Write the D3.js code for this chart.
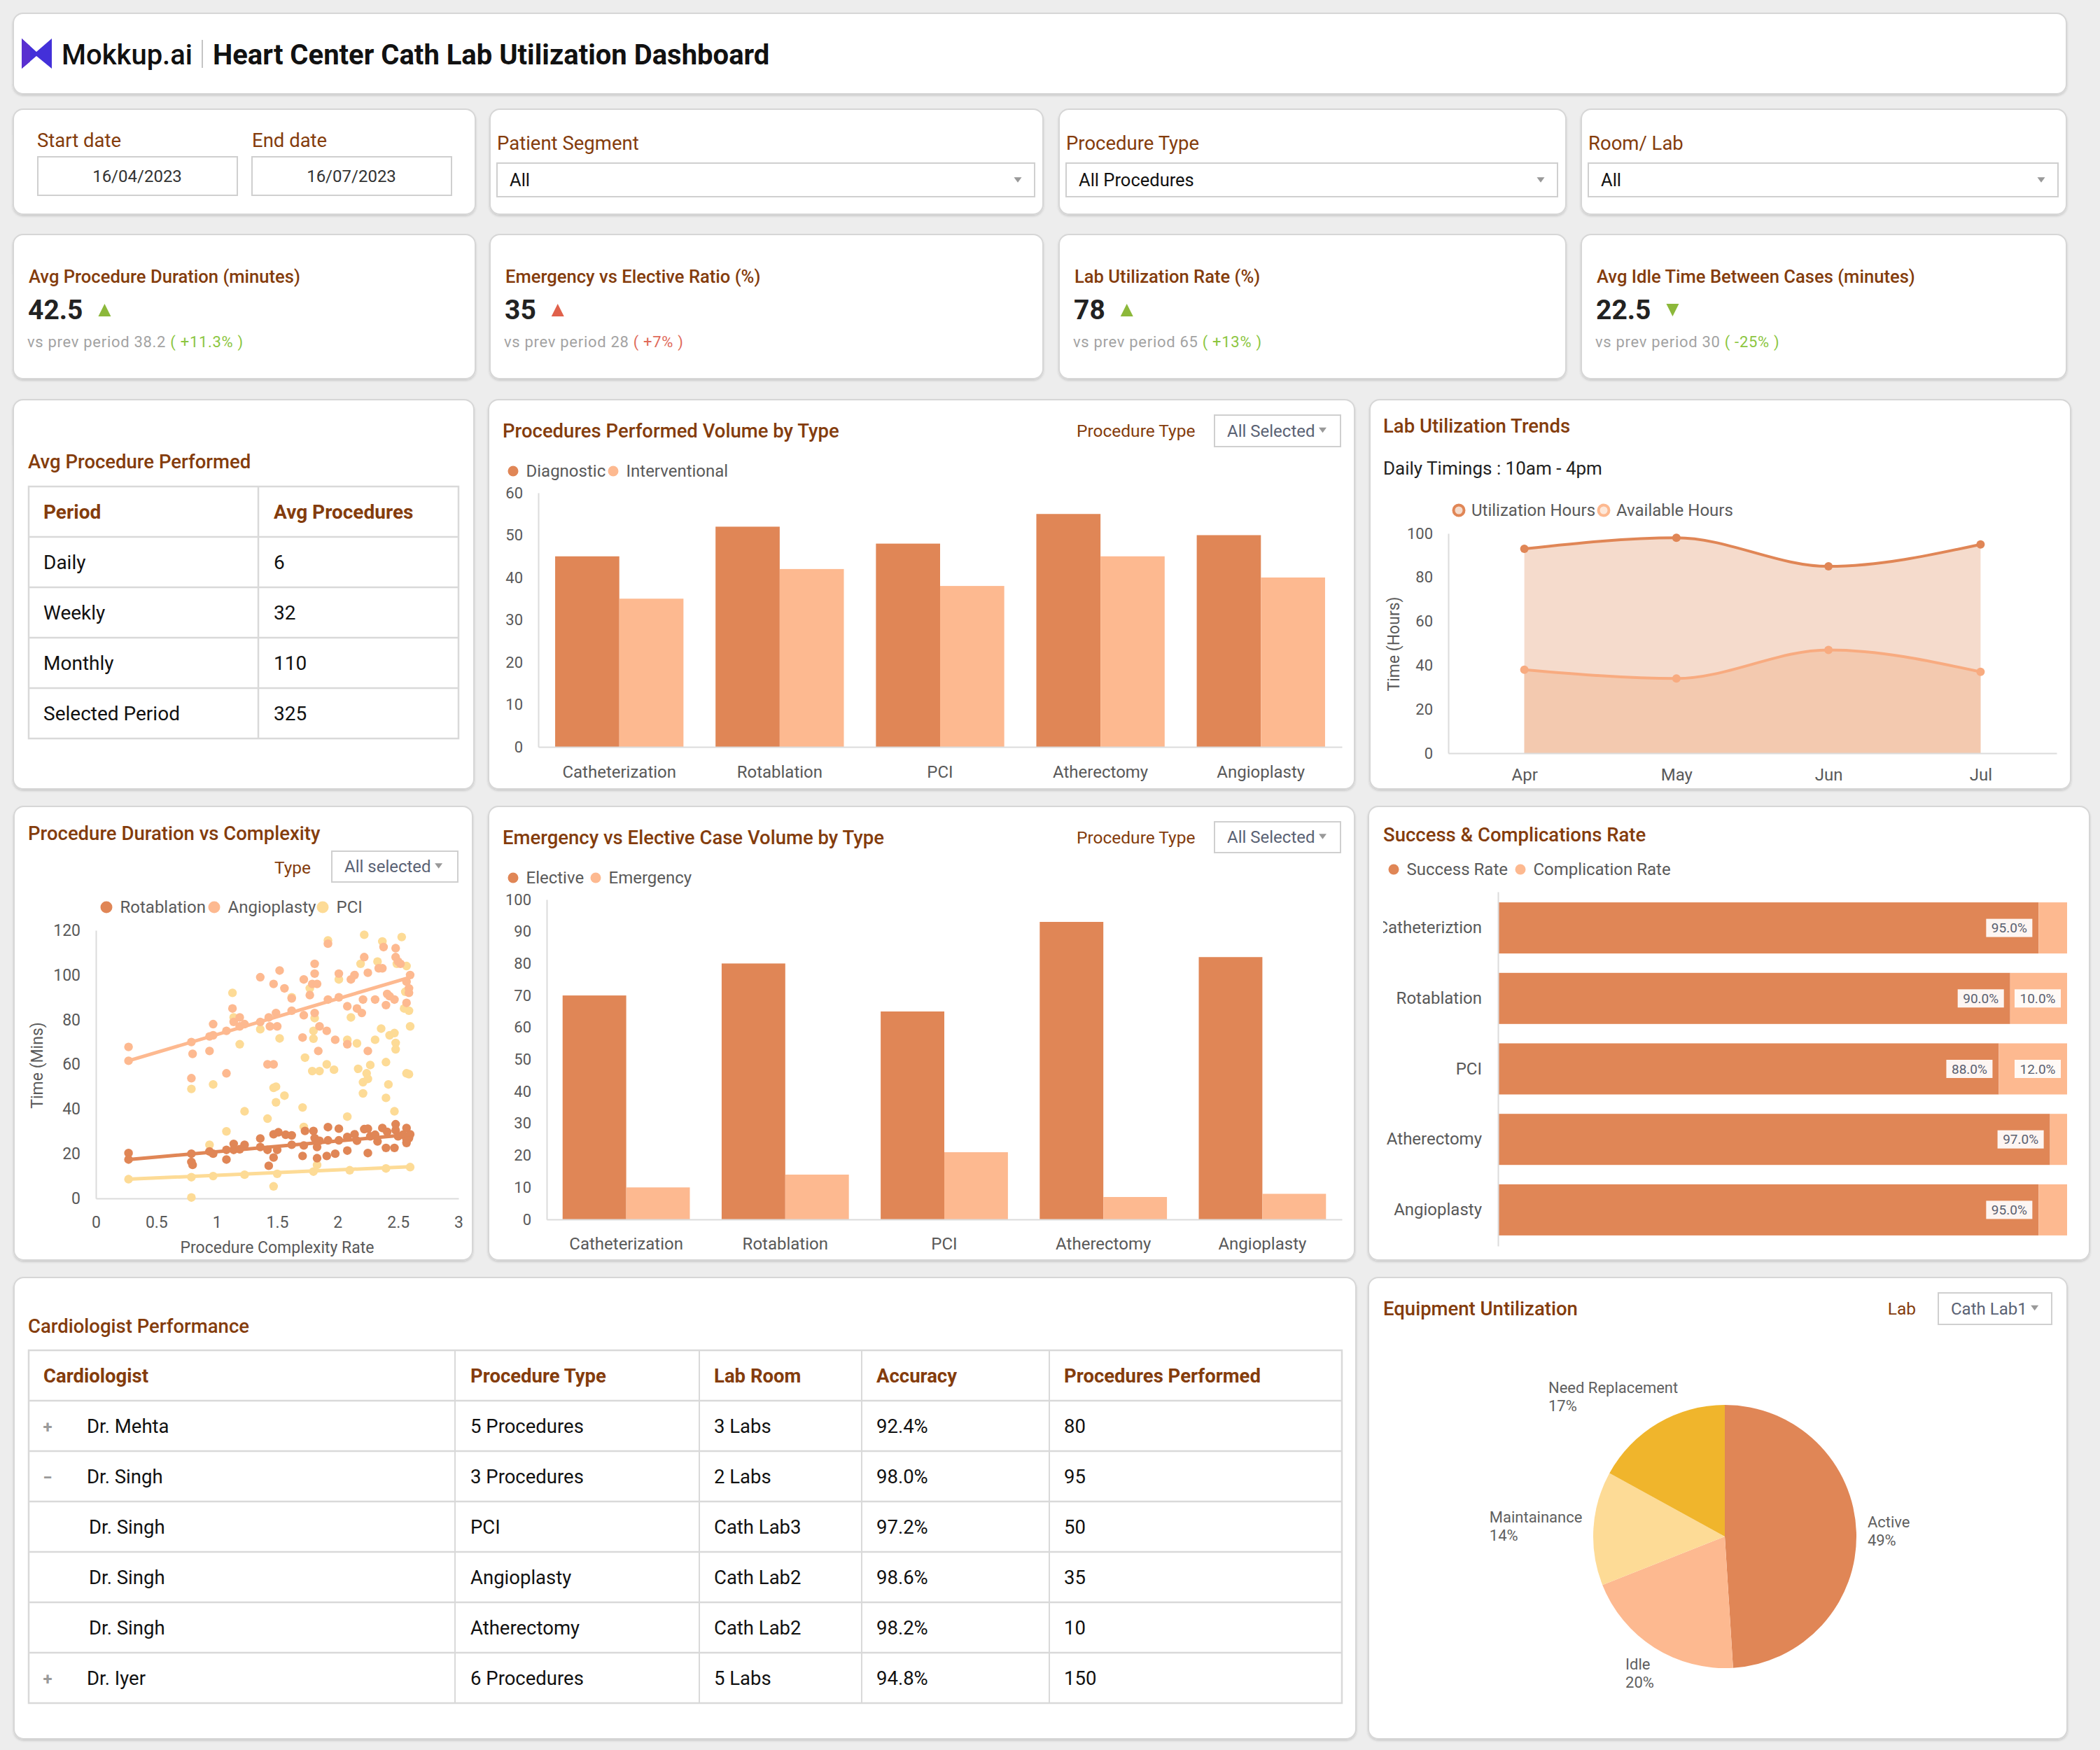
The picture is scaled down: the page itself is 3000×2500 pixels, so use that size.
<!DOCTYPE html>
<html>
<head>
<meta charset="utf-8">
<script src="https://cdn.jsdelivr.net/npm/d3@7"></script>
<style>
  body { margin: 0; background: #ededed; }
  svg text { font-family: Roboto, "Noto Sans", sans-serif; }
</style>
</head>
<body>
<script>
// ---- data ----
const procTypes = ["Catheterization", "Rotablation", "PCI", "Atherectomy", "Angioplasty"];
const diagnostic = [45, 52, 48, 55, 50];
const interventional = [35, 42, 38, 45, 40];
const volTicks = [0, 10, 20, 30, 40, 50, 60];

const elective = [70, 80, 65, 93, 82];
const emergency = [10, 14, 21, 7, 8];
const caseTicks = [0, 10, 20, 30, 40, 50, 60, 70, 80, 90, 100];

const months = ["Apr", "May", "Jun", "Jul"];
const utilizationHours = [93, 98, 85, 95];
const availableHours = [38, 34, 47, 37];
const hourTicks = [0, 20, 40, 60, 80, 100];

const successTypes = ["Catheteriztion", "Rotablation", "PCI", "Atherectomy", "Angioplasty"];
const successRate = [95, 90, 88, 97, 95];
const complicationRate = [5, 10, 12, 3, 5];

const equipLabels = ["Active", "Idle", "Maintainance", "Need Replacement"];
const equipShare = [49, 20, 14, 17];

const periods = ["Daily", "Weekly", "Monthly", "Selected Period"];
const avgProcedures = [6, 32, 110, 325];

const kpiTitles = ["Avg Procedure Duration (minutes)", "Emergency vs Elective Ratio (%)", "Lab Utilization Rate (%)", "Avg Idle Time Between Cases (minutes)"];
const kpiValues = ["42.5", "35", "78", "22.5"];
const kpiPrev = ["38.2", "28", "65", "30"];
const kpiChange = ["+11.3%", "+7%", "+13%", "-25%"];
const kpiUp = [true, true, true, false];
const kpiGood = [true, false, true, true];

const cardioToggle = ["+", "\u2212", "", "", "", "+"];
const cardioNames = ["Dr. Mehta", "Dr. Singh", "Dr. Singh", "Dr. Singh", "Dr. Singh", "Dr. Iyer"];
const cardioProc = ["5 Procedures", "3 Procedures", "PCI", "Angioplasty", "Atherectomy", "6 Procedures"];
const cardioLab = ["3 Labs", "2 Labs", "Cath Lab3", "Cath Lab2", "Cath Lab2", "5 Labs"];
const cardioAcc = ["92.4%", "98.0%", "97.2%", "98.6%", "98.2%", "94.8%"];
const cardioCount = [80, 95, 50, 35, 10, 150];

const complexTicks = [0, 0.5, 1, 1.5, 2, 2.5, 3];
const minsTicks = [0, 20, 40, 60, 80, 100, 120];
// [complexity, minutes]
const rotPoints = [[0.27,20.3],[0.27,17.4],[0.79,20],[0.79,16.3],[0.8,15],[0.94,21],[0.97,20],[1.08,17.4],[1.08,21.7],
  [1.14,24.4],[1.14,21.7],[1.23,24],[1.19,22],[1.36,26.8],[1.36,23],[1.43,14.6],[1.42,21.7],[1.47,18.3],[1.47,28.7],
  [1.51,29.6],[1.5,21.7],[1.57,28.5],[1.62,28.2],[1.62,24],[1.71,19],[1.73,30.2],[1.72,23.7],[1.8,30.2],[1.81,27],
  [1.83,18],[1.83,23],[1.85,25.8],[1.92,31.9],[1.91,19],[1.92,26],[1.98,20],[2.01,31.2],[2.01,26],[2.08,21.4],
  [2.08,27.5],[2.14,28.7],[2.16,25.8],[2.22,31],[2.25,20.3],[2.25,31.2],[2.27,27.8],[2.31,28.5],[2.33,25.5],
  [2.37,31.5],[2.4,22.6],[2.41,29.8],[2.47,22.6],[2.48,33.2],[2.48,30.5],[2.5,27.8],[2.54,28.5],[2.57,31.5],
  [2.57,24.8],[2.59,27],[2.6,28.7],[2.57,26.4]];
const angioPoints = [[0.27,67.8],[0.27,61.6],[0.79,70],[0.8,64.7],[0.79,53.8],[0.97,78],[0.94,72.5],[0.97,73],[0.94,66],
  [1.08,75],[1.08,56],[1.13,85],[1.14,79],[1.19,81],[1.23,78],[1.19,77],[1.36,99],[1.36,79],[1.43,81],[1.44,77],
  [1.42,60],[1.47,60],[1.47,96],[1.52,102],[1.49,83],[1.5,77],[1.56,94],[1.62,89.5],[1.62,84],[1.72,98],[1.72,82],
  [1.71,72],[1.81,105],[1.81,100.6],[1.79,96],[1.83,96],[1.77,91],[1.81,83],[1.85,77],[1.84,66],[1.92,114],[1.92,89],
  [1.91,75],[1.98,71],[2.01,100.6],[2.01,90],[2.08,86],[2.08,69],[2.11,98],[2.14,100],[2.16,85],[2.2,83],[2.21,89],
  [2.22,108],[2.25,101],[2.25,66],[2.31,89],[2.34,103],[2.37,103],[2.38,112.5],[2.4,86.5],[2.41,91.5],[2.43,90.5],
  [2.47,89],[2.48,112],[2.48,108],[2.5,106],[2.52,105],[2.57,87.5],[2.59,94],[2.59,92],[2.6,100],[2.57,97]];
const pciPoints = [[0.79,0.4],[0.79,49],[0.97,51],[1.13,92],[1.14,81],[1.19,69],[1.23,39],[1.08,30],[0.94,24],[1.36,75.7],
  [1.42,35.7],[1.47,5.4],[1.47,49.5],[1.49,50],[1.49,43],[1.56,46],[1.52,71.6],[1.62,90],[1.71,40.7],[1.72,32],[1.73,63],
  [1.77,94],[1.8,75],[1.8,71.5],[1.79,57],[1.85,57],[1.81,80.7],[1.92,115.5],[1.91,60],[1.97,57.6],[2.01,98],[2.08,36.6],
  [2.08,71],[2.11,81],[2.16,69.4],[2.17,58],[2.19,105],[2.21,52],[2.21,47],[2.24,56],[2.25,53.5],[2.27,59.7],[2.22,118],
  [2.31,71],[2.33,106],[2.36,76],[2.37,115],[2.4,61],[2.4,45],[2.42,51],[2.43,73],[2.47,74],[2.48,69.6],[2.48,66.7],
  [2.47,39],[2.53,117],[2.49,105],[2.57,104],[2.56,92.5],[2.55,85],[2.59,84],[2.6,77],[2.57,56],[2.59,55.6],[1.83,15],
  [0.27,8.6],[0.79,9.5],[0.97,10],[1.23,10.6],[1.5,11],[1.8,12],[2.1,12.6],[2.4,13.4],[2.6,14]];
const rotTrend = [[0.27, 17.4], [2.6, 28.6]];
const angioTrend = [[0.27, 61.6], [2.6, 99]];
const pciTrend = [[0.27, 8.6], [2.6, 14.2]];

// ---- setup ----
const W = 3000, H = 2500;
const DARK = "#e08656", LIGHT = "#fdb990", PALE = "#fddb96", GOLD = "#f0b52c";
const BROWN = "#843c0c", TICK = "#595959", LINE = "#dcdcdc";

const svg = d3.select("body").append("svg")
  .attr("width", W).attr("height", H)
  .style("display", "block");
svg.append("rect").attr("width", W).attr("height", H).attr("fill", "#ededed");

const defs = svg.append("defs");
defs.append("filter").attr("id", "sh")
  .attr("x", "-2%").attr("y", "-2%").attr("width", "104%").attr("height", "106%")
  .append("feDropShadow").attr("dx", 0).attr("dy", 2).attr("stdDeviation", 1.5)
  .attr("flood-color", "#000").attr("flood-opacity", 0.14);
defs.append("clipPath").attr("id", "succClip")
  .append("rect").attr("x", 1976).attr("y", 1250).attr("width", 1000).attr("height", 560);

function panel(x0, y0, x1, y1) {
  svg.append("rect")
    .attr("x", x0).attr("y", y0).attr("width", x1 - x0).attr("height", y1 - y0)
    .attr("rx", 14).attr("fill", "#fff")
    .attr("stroke", "#d6d6d6").attr("stroke-width", 2)
    .attr("filter", "url(#sh)");
}

function txt(g, x, y, s, o = {}) {
  return g.append("text")
    .attr("x", x).attr("y", y)
    .attr("dominant-baseline", "central")
    .attr("font-size", o.size || 24)
    .attr("fill", o.color || "#222")
    .attr("font-weight", o.weight || 400)
    .attr("text-anchor", o.anchor || "start")
    .text(s);
}

function caret(x, y, w, color) {
  svg.append("path")
    .attr("d", `M${x - w / 2},${y - w / 3}L${x + w / 2},${y - w / 3}L${x},${y + w / 3}Z`)
    .attr("fill", color || "#8a8a8a");
}

function box(x0, y0, x1, y1) {
  svg.append("rect")
    .attr("x", x0).attr("y", y0).attr("width", x1 - x0).attr("height", y1 - y0)
    .attr("fill", "#fff").attr("stroke", "#cfcfcf").attr("stroke-width", 2);
}

// small select like "All Selected ▾"
function chipSelect(x0, y0, x1, y1, label) {
  box(x0, y0, x1, y1);
  const t = txt(svg, x0 + 18, (y0 + y1) / 2, label, { size: 24, color: "#5a6274" });
  const w = t.node().getComputedTextLength();
  caret(x0 + 18 + w + 11, (y0 + y1) / 2 - 1, 11, "#999");
}

function legendDot(x, y, color, label, r) {
  svg.append("circle").attr("cx", x).attr("cy", y).attr("r", r || 7.5).attr("fill", color);
  txt(svg, x + (r || 7.5) + 11, y, label, { size: 24, color: "#5a5a5a" });
}

function styleAxis(g, size) {
  g.attr("font-family", "Roboto, sans-serif").attr("font-size", size);
  g.selectAll(".tick text").attr("fill", TICK);
  g.selectAll(".tick line").remove();
  g.select(".domain").attr("stroke", LINE).attr("stroke-width", 2);
}

const TITLE = 27.5;

// ---- header ----
panel(19, 19, 2952, 134);
svg.append("polygon")
  .attr("points", "31,55 52,74 74,55 74,98 52,80 31,98")
  .attr("fill", "#4330d9");
svg.append("polygon")
  .attr("points", "31,55 43,66 43,88 31,98")
  .attr("fill", "#5a2fd0");
txt(svg, 88, 78, "Mokkup.ai", { size: 40, weight: 500, color: "#111" });
svg.append("line").attr("x1", 289).attr("x2", 289).attr("y1", 57).attr("y2", 97)
  .attr("stroke", "#c4c4c4").attr("stroke-width", 2);
txt(svg, 304, 78, "Heart Center Cath Lab Utilization Dashboard", { size: 40, weight: 700, color: "#111" });

// ---- filters ----
panel(19, 156, 679, 306);
txt(svg, 53, 200, "Start date", { size: 27.5, color: BROWN });
txt(svg, 360, 200, "End date", { size: 27.5, color: BROWN });
box(54, 224, 339, 279);
box(360, 224, 645, 279);
txt(svg, 196, 252, "16/04/2023", { size: 24, color: "#333", anchor: "middle" });
txt(svg, 502, 252, "16/07/2023", { size: 24, color: "#333", anchor: "middle" });

const filterPanels = [
  { x0: 700, x1: 1490, label: "Patient Segment", value: "All" },
  { x0: 1513, x1: 2237, label: "Procedure Type", value: "All Procedures" },
  { x0: 2259, x1: 2952, label: "Room/ Lab", value: "All" }
];
filterPanels.forEach(p => {
  panel(p.x0, 156, p.x1, 306);
  txt(svg, p.x0 + 10, 204, p.label, { size: 27.5, color: BROWN });
  box(p.x0 + 10, 233, p.x1 - 12, 281);
  txt(svg, p.x0 + 28, 257, p.value, { size: 25.5, color: "#111" });
  caret(p.x1 - 36, 257, 11, "#999");
});

// ---- KPI cards ----
const kpiPanels = [[19, 679], [700, 1490], [1513, 2237], [2259, 2952]];
kpiPanels.forEach((p, i) => {
  panel(p[0], 335, p[1], 541);
  const x = p[0] + 22;
  txt(svg, x, 395, kpiTitles[i], { size: 25.6, weight: 500, color: BROWN });
  const v = txt(svg, x - 1, 443, kpiValues[i], { size: 39, weight: 700, color: "#222" });
  const vw = v.node().getComputedTextLength();
  const good = kpiGood[i] ? "#8cb83a" : "#e0614b";
  const tx = x + vw + 30, ty = 443;
  svg.append("path")
    .attr("d", kpiUp[i]
      ? `M${tx - 9},${ty + 9}L${tx + 9},${ty + 9}L${tx},${ty - 9}Z`
      : `M${tx - 9},${ty - 9}L${tx + 9},${ty - 9}L${tx},${ty + 9}Z`)
    .attr("fill", good);
  const t = txt(svg, x - 2, 488, "", { size: 22, color: "#a3a3a3" }).attr("letter-spacing", 0.7);
  t.append("tspan").text("vs prev period " + kpiPrev[i] + " ");
  t.append("tspan").attr("fill", kpiGood[i] ? "#8cc63f" : "#e06a5a").text("( " + kpiChange[i] + " )");
});

// ---- Avg Procedure Performed table ----
panel(19, 571, 677, 1127);
txt(svg, 40, 659, "Avg Procedure Performed", { size: TITLE, weight: 500, color: BROWN });
const tRows = [695, 767, 839, 911, 983, 1055];
svg.append("rect").attr("x", 41).attr("y", 695).attr("width", 614).attr("height", 360)
  .attr("fill", "none").attr("stroke", "#d9d9d9").attr("stroke-width", 2.5);
tRows.slice(1, 5).forEach(y => svg.append("line").attr("x1", 41).attr("x2", 655).attr("y1", y).attr("y2", y)
  .attr("stroke", "#d9d9d9").attr("stroke-width", 2.5));
svg.append("line").attr("x1", 369).attr("x2", 369).attr("y1", 695).attr("y2", 1055)
  .attr("stroke", "#d9d9d9").attr("stroke-width", 2.5);
txt(svg, 62, 731, "Period", { size: 28, weight: 700, color: BROWN });
txt(svg, 391, 731, "Avg Procedures", { size: 28, weight: 700, color: BROWN });
periods.forEach((p, i) => {
  const y = (tRows[i + 1] + tRows[i + 2]) / 2;
  txt(svg, 62, y, p, { size: 28, color: "#111" });
  txt(svg, 391, y, avgProcedures[i], { size: 28, color: "#111" });
});

// ---- Procedures Performed Volume by Type ----
panel(698, 571, 1935, 1127);
txt(svg, 718, 615, "Procedures Performed Volume by Type", { size: TITLE, weight: 500, color: BROWN });
txt(svg, 1538, 615, "Procedure Type", { size: 24.5, color: BROWN });
chipSelect(1735, 593, 1915, 638, "All Selected");
legendDot(733, 673, DARK, "Diagnostic", 7.5);
legendDot(876, 673, LIGHT, "Interventional", 7.5);

const vx = d3.scaleBand().domain(procTypes).range([769, 1917]).paddingInner(0.2).paddingOuter(0.105);
const vx1 = d3.scaleBand().domain([0, 1]).range([0, vx.bandwidth()]);
const vy = d3.scaleLinear().domain([0, 60]).range([1067, 704]);
const volG = svg.append("g");
procTypes.forEach((c, i) => {
  [diagnostic[i], interventional[i]].forEach((v, j) => {
    volG.append("rect")
      .attr("x", vx(c) + vx1(j)).attr("width", vx1.bandwidth())
      .attr("y", vy(v)).attr("height", vy(0) - vy(v))
      .attr("fill", j === 0 ? DARK : LIGHT);
  });
});
styleAxis(svg.append("g").attr("transform", "translate(769,0)")
  .call(d3.axisLeft(vy).tickValues(volTicks).tickSize(0).tickPadding(22).tickSizeOuter(0)), 22);
styleAxis(svg.append("g").attr("transform", `translate(0,${vy(0)})`)
  .call(d3.axisBottom(vx).tickSize(0).tickPadding(27)), 24);

// ---- Lab Utilization Trends ----
panel(1957, 571, 2958, 1127);
txt(svg, 1976, 608, "Lab Utilization Trends", { size: TITLE, weight: 500, color: BROWN });
txt(svg, 1976, 669, "Daily Timings : 10am - 4pm", { size: 26, color: "#222" });
[[2084, DARK, "#f5dccd", "Utilization Hours"], [2291, LIGHT, "#fde8da", "Available Hours"]].forEach(l => {
  svg.append("circle").attr("cx", l[0]).attr("cy", 729).attr("r", 7.5)
    .attr("fill", l[2]).attr("stroke", l[1]).attr("stroke-width", 4);
  txt(svg, l[0] + 18, 729, l[3], { size: 24, color: "#5a5a5a" });
});

const lx = d3.scalePoint().domain(months).range([2069, 2938]).padding(0.5);
const ly = d3.scaleLinear().domain([0, 100]).range([1076, 762]);
const area = d3.area().x((d, i) => lx(months[i])).y0(ly(0)).y1(d => ly(d)).curve(d3.curveMonotoneX);
const line = d3.line().x((d, i) => lx(months[i])).y(d => ly(d)).curve(d3.curveMonotoneX);
svg.append("path").attr("d", area(utilizationHours)).attr("fill", "#f5dbcc");
svg.append("path").attr("d", area(availableHours)).attr("fill", "#f3c9af");
svg.append("path").attr("d", line(utilizationHours)).attr("fill", "none").attr("stroke", DARK).attr("stroke-width", 4);
svg.append("path").attr("d", line(availableHours)).attr("fill", "none").attr("stroke", "#f8ab80").attr("stroke-width", 4);
utilizationHours.forEach((v, i) => svg.append("circle").attr("cx", lx(months[i])).attr("cy", ly(v)).attr("r", 6).attr("fill", DARK));
availableHours.forEach((v, i) => svg.append("circle").attr("cx", lx(months[i])).attr("cy", ly(v)).attr("r", 6).attr("fill", "#f8ab80"));
styleAxis(svg.append("g").attr("transform", "translate(2069,0)")
  .call(d3.axisLeft(ly).tickValues(hourTicks).tickSize(0).tickPadding(22).tickSizeOuter(0)), 22);
styleAxis(svg.append("g").attr("transform", `translate(0,${ly(0)})`)
  .call(d3.axisBottom(lx).tickSize(0).tickPadding(22).tickSizeOuter(0)), 24);
txt(svg, 0, 0, "Time (Hours)", { size: 23, color: TICK, anchor: "middle" })
  .attr("transform", "translate(1991,920) rotate(-90)");

// ---- Procedure Duration vs Complexity ----
panel(20, 1152, 675, 1800);
txt(svg, 40, 1190, "Procedure Duration vs Complexity", { size: TITLE, weight: 500, color: BROWN });
txt(svg, 444, 1239, "Type", { size: 24.5, color: BROWN, anchor: "end" });
chipSelect(474, 1216, 654, 1260, "All selected");
legendDot(152, 1296, DARK, "Rotablation", 8.5);
legendDot(306, 1296, LIGHT, "Angioplasty", 8.5);
legendDot(461, 1296, PALE, "PCI", 8.5);

const sx = d3.scaleLinear().domain([0, 3]).range([137, 655]);
const sy = d3.scaleLinear().domain([0, 120]).range([1712, 1329]);
styleAxis(svg.append("g").attr("transform", "translate(137,0)")
  .call(d3.axisLeft(sy).tickValues(minsTicks).tickSize(0).tickPadding(22).tickSizeOuter(0)), 23);
styleAxis(svg.append("g").attr("transform", `translate(0,${sy(0)})`)
  .call(d3.axisBottom(sx).tickValues(complexTicks).tickFormat(d => d).tickSize(0).tickPadding(26).tickSizeOuter(0)), 23);
txt(svg, 396, 1782, "Procedure Complexity Rate", { size: 23, color: TICK, anchor: "middle" });
txt(svg, 0, 0, "Time (Mins)", { size: 23, color: TICK, anchor: "middle" })
  .attr("transform", "translate(53,1522) rotate(-90)");

const trendLine = d3.line().x(d => sx(d[0])).y(d => sy(d[1]));
[[pciPoints, pciTrend, PALE], [angioPoints, angioTrend, LIGHT], [rotPoints, rotTrend, DARK]].forEach(s => {
  svg.append("g").selectAll("circle").data(s[0]).join("circle")
    .attr("cx", d => sx(d[0])).attr("cy", d => sy(d[1])).attr("r", 6.2).attr("fill", s[2]);
  svg.append("path").attr("d", trendLine(s[1])).attr("stroke", s[2]).attr("stroke-width", 5)
    .attr("stroke-linecap", "round").attr("fill", "none");
});

// ---- Emergency vs Elective Case Volume by Type ----
panel(698, 1152, 1935, 1800);
txt(svg, 718, 1196, "Emergency vs Elective Case Volume by Type", { size: TITLE, weight: 500, color: BROWN });
txt(svg, 1538, 1196, "Procedure Type", { size: 24.5, color: BROWN });
chipSelect(1735, 1174, 1915, 1218, "All Selected");
legendDot(733, 1254, DARK, "Elective", 7.5);
legendDot(851, 1254, LIGHT, "Emergency", 7.5);

const ex = d3.scaleBand().domain(procTypes).range([781, 1917]).paddingInner(0.2).paddingOuter(0.1);
const ex1 = d3.scaleBand().domain([0, 1]).range([0, ex.bandwidth()]);
const ey = d3.scaleLinear().domain([0, 100]).range([1742, 1285]);
procTypes.forEach((c, i) => {
  [elective[i], emergency[i]].forEach((v, j) => {
    svg.append("rect")
      .attr("x", ex(c) + ex1(j)).attr("width", ex1.bandwidth())
      .attr("y", ey(v)).attr("height", ey(0) - ey(v))
      .attr("fill", j === 0 ? DARK : LIGHT);
  });
});
styleAxis(svg.append("g").attr("transform", "translate(781,0)")
  .call(d3.axisLeft(ey).tickValues(caseTicks).tickSize(0).tickPadding(22).tickSizeOuter(0)), 22);
styleAxis(svg.append("g").attr("transform", `translate(0,${ey(0)})`)
  .call(d3.axisBottom(ex).tickSize(0).tickPadding(26)), 24);

// ---- Success & Complications Rate ----
panel(1955, 1152, 2985, 1800);
txt(svg, 1976, 1192, "Success & Complications Rate", { size: TITLE, weight: 500, color: BROWN });
legendDot(1991, 1242, DARK, "Success Rate", 7.5);
legendDot(2172, 1242, LIGHT, "Complication Rate", 7.5);

const cyS = d3.scaleBand().domain(successTypes).range([1274, 1780]).paddingInner(0.275).paddingOuter(0.15);
const cxS = d3.scaleLinear().domain([0, 100]).range([2140, 2953]);
const succG = svg.append("g");
successTypes.forEach((c, i) => {
  const y0 = cyS(c), h = cyS.bandwidth(), yc = y0 + h / 2;
  succG.append("rect").attr("x", cxS(0)).attr("y", y0).attr("width", cxS(successRate[i]) - cxS(0)).attr("height", h).attr("fill", DARK);
  succG.append("rect").attr("x", cxS(successRate[i])).attr("y", y0)
    .attr("width", cxS(successRate[i] + complicationRate[i]) - cxS(successRate[i])).attr("height", h).attr("fill", LIGHT);
  const labels = [[successRate[i], cxS(successRate[i])]];
  if (complicationRate[i] >= 10) labels.push([complicationRate[i], cxS(successRate[i] + complicationRate[i])]);
  labels.forEach(l => {
    succG.append("rect").attr("x", l[1] - 9 - 66).attr("y", yc - 13).attr("width", 66).attr("height", 26)
      .attr("fill", "#fff").attr("fill-opacity", 0.92);
    txt(succG, l[1] - 9 - 33, yc, l[0].toFixed(1) + "%", { size: 19, color: "#5a6070", anchor: "middle" });
  });
});
const succAxis = svg.append("g").attr("clip-path", "url(#succClip)").append("g")
  .attr("transform", "translate(2140,0)")
  .call(d3.axisLeft(cyS).tickSize(0).tickPadding(23).tickSizeOuter(0));
styleAxis(succAxis, 24);

// ---- Cardiologist Performance ----
panel(20, 1825, 1937, 2484);
txt(svg, 40, 1894, "Cardiologist Performance", { size: TITLE, weight: 500, color: BROWN });
const cCols = [41, 650, 999, 1231, 1499, 1917];
const cRows = [1929, 2001, 2073, 2145, 2217, 2289, 2361, 2433];
svg.append("rect").attr("x", 41).attr("y", 1929).attr("width", 1876).attr("height", 504)
  .attr("fill", "none").attr("stroke", "#d9d9d9").attr("stroke-width", 2.5);
cRows.slice(1, 7).forEach(y => svg.append("line").attr("x1", 41).attr("x2", 1917).attr("y1", y).attr("y2", y)
  .attr("stroke", "#d9d9d9").attr("stroke-width", 2.5));
cCols.slice(1, 5).forEach(x => svg.append("line").attr("x1", x).attr("x2", x).attr("y1", 1929).attr("y2", 2433)
  .attr("stroke", "#d9d9d9").attr("stroke-width", 2));
const cHeads = ["Cardiologist", "Procedure Type", "Lab Room", "Accuracy", "Procedures Performed"];
const cTextX = [62, 672, 1020, 1252, 1520];
cHeads.forEach((h, i) => txt(svg, cTextX[i], 1965, h, { size: 27.5, weight: 700, color: BROWN }));
cardioNames.forEach((n, i) => {
  const y = (cRows[i + 1] + cRows[i + 2]) / 2;
  if (cardioToggle[i]) txt(svg, 68, y + 2, cardioToggle[i], { size: 24, color: "#9a9a9a", anchor: "middle", weight: 700 });
  txt(svg, cardioToggle[i] ? 124 : 127, y, n, { size: 27.5, color: "#111" });
  txt(svg, cTextX[1], y, cardioProc[i], { size: 27.5, color: "#111" });
  txt(svg, cTextX[2], y, cardioLab[i], { size: 27.5, color: "#111" });
  txt(svg, cTextX[3], y, cardioAcc[i], { size: 27.5, color: "#111" });
  txt(svg, cTextX[4], y, cardioCount[i], { size: 27.5, color: "#111" });
});

// ---- Equipment Untilization ----
panel(1955, 1825, 2953, 2484);
txt(svg, 1976, 1869, "Equipment Untilization", { size: TITLE, weight: 500, color: BROWN });
txt(svg, 2737, 1869, "Lab", { size: 24.5, color: BROWN, anchor: "end" });
chipSelect(2769, 1847, 2931, 1892, "Cath Lab1");

const pieColors = [DARK, LIGHT, PALE, GOLD];
const pcx = 2464, pcy = 2195, pr = 188;
const arcs = d3.pie().sort(null).value(d => d)(equipShare);
const arcGen = d3.arc().innerRadius(0).outerRadius(pr);
const pieG = svg.append("g").attr("transform", `translate(${pcx},${pcy})`);
pieG.selectAll("path").data(arcs).join("path")
  .attr("d", arcGen).attr("fill", (d, i) => pieColors[i]);
arcs.forEach((a, i) => {
  const mid = (a.startAngle + a.endAngle) / 2;
  const lr = pr + 16;
  const px = Math.sin(mid) * lr, py = -Math.cos(mid) * lr;
  const dy = -Math.cos(mid) * 28;
  const right = Math.sin(mid) >= 0;
  // label block is left-aligned; on the left side the block ends at the label point
  const l1 = txt(pieG, px, py + dy - 13, equipLabels[i], { size: 22, color: "#5f5f5f" });
  const l2 = txt(pieG, px, py + dy + 13, equipShare[i] + "%", { size: 22, color: "#5f5f5f" });
  if (!right) {
    const bw = Math.max(l1.node().getComputedTextLength(), l2.node().getComputedTextLength());
    const shift = Math.abs(Math.cos(mid)) > 0.8 ? bw * 0.8 : bw;
    l1.attr("x", px - shift);
    l2.attr("x", px - shift);
  }
});
</script>
</body>
</html>
